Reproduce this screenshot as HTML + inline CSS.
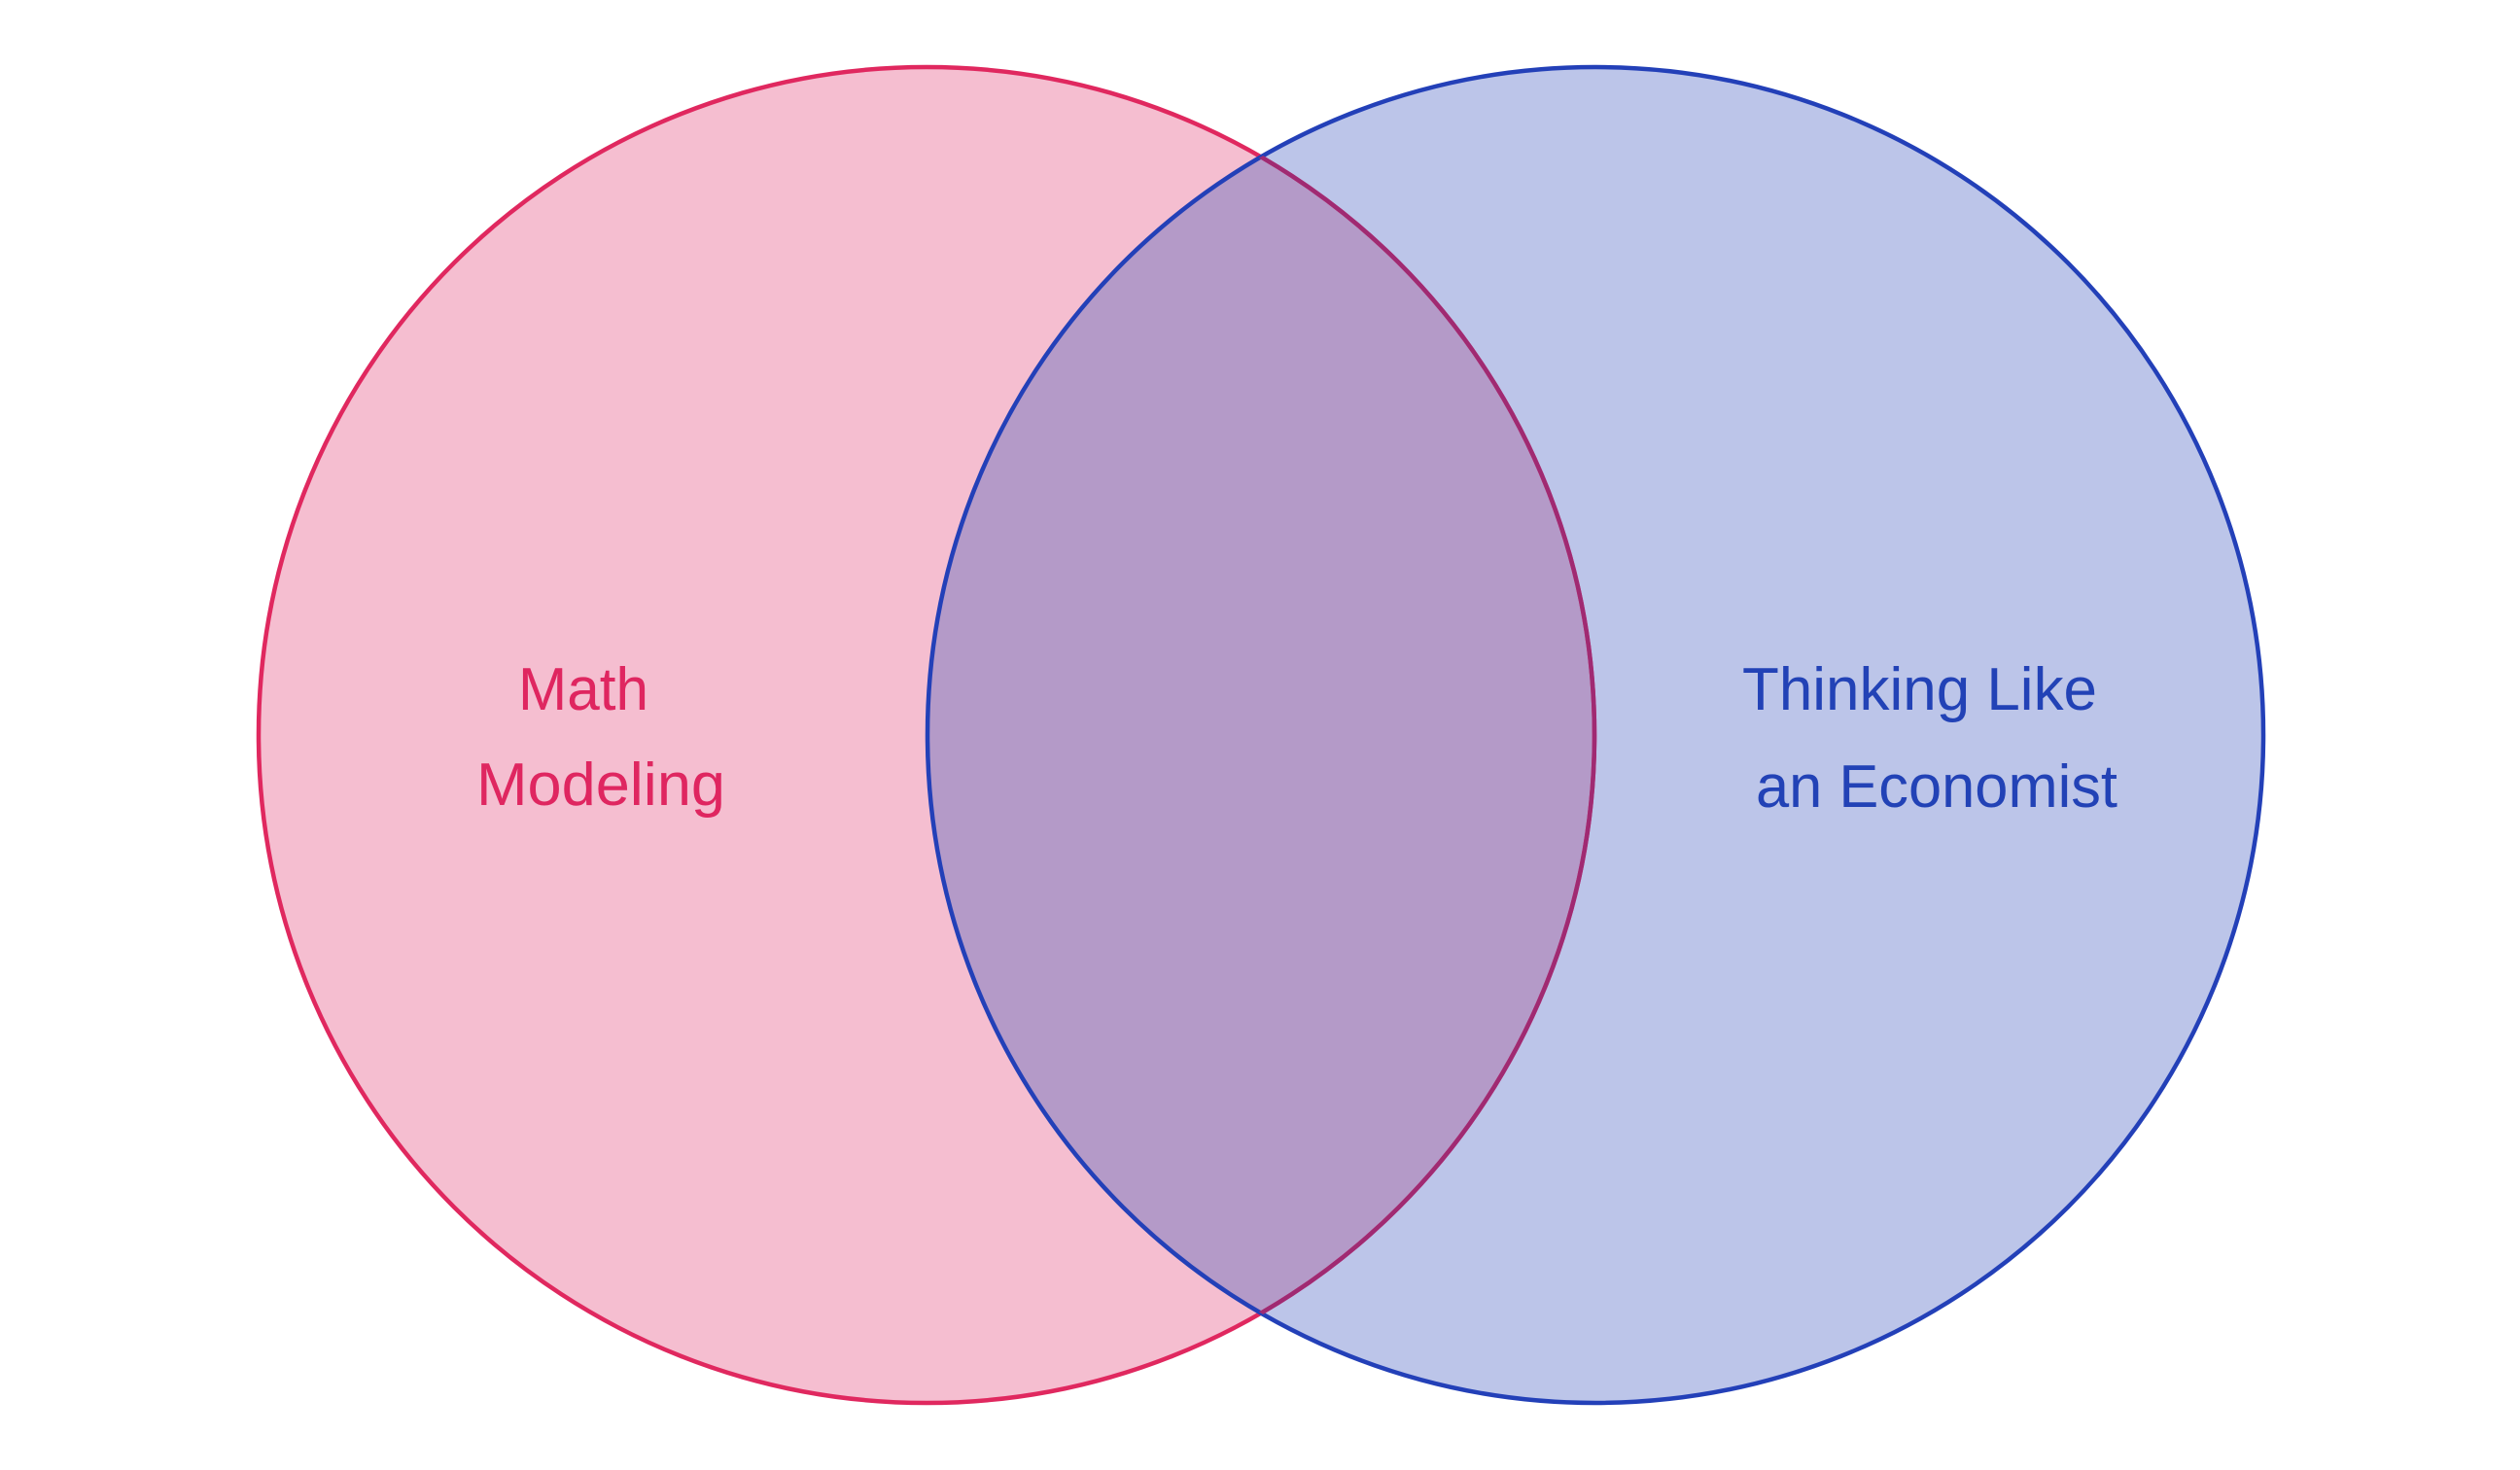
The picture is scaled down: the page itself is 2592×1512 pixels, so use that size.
<!DOCTYPE html>
<html><head><meta charset="utf-8"><style>
html,body{margin:0;padding:0;background:#fff;}
svg{display:block;}
text{font-family:"Liberation Sans",sans-serif;font-size:62px;}
</style></head><body>
<svg width="2592" height="1512" viewBox="0 0 2592 1512" xmlns="http://www.w3.org/2000/svg">
<defs>
<clipPath id="cb"><circle cx="1641" cy="756" r="687"/></clipPath>
</defs>
<circle cx="953" cy="756" r="687" fill="#f5bed0"/>
<circle cx="1641" cy="756" r="687" fill="#bcc5e9"/>
<circle cx="953" cy="756" r="687" fill="#b49ac8" clip-path="url(#cb)"/>
<circle cx="953" cy="756" r="687" fill="none" stroke="#e0285f" stroke-width="4.5"/>
<circle cx="1641" cy="756" r="687" fill="none" stroke="#2340b8" stroke-width="4.5"/>
<circle cx="953" cy="756" r="687" fill="none" stroke="#a02a72" stroke-width="4.5" clip-path="url(#cb)"/>
<text x="533" y="730" fill="#df2660" textLength="134" lengthAdjust="spacingAndGlyphs">Math</text>
<text x="490" y="828" fill="#df2660" textLength="256" lengthAdjust="spacingAndGlyphs">Modeling</text>
<text x="1792" y="730" fill="#2242b6" textLength="365" lengthAdjust="spacingAndGlyphs">Thinking Like</text>
<text x="1806" y="830" fill="#2242b6" textLength="372" lengthAdjust="spacingAndGlyphs">an Economist</text>
</svg>
</body></html>
